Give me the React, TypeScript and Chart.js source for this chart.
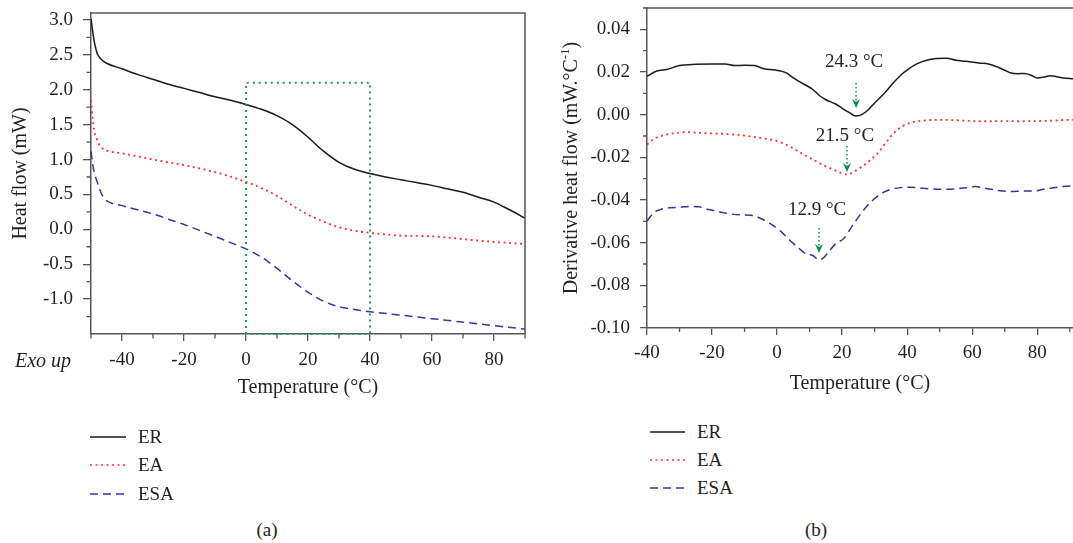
import React, { useEffect, useRef } from "react";
import { Chart, registerables } from "chart.js";
Chart.register(...registerables);

const FONT = '"Liberation Serif", "Times New Roman", serif';
const AXIS = "#555555";
const TEXT = "#231f20";
const ER_COLOR = "#1a1a1a";
const EA_COLOR = "#ff3030";
const ESA_COLOR = "#3636a0";
const GREEN = "#1e9a5a";
const ARROW_GREEN = "#0a8c4a";

// ---------- (a) Heat flow ----------
const tempA_ER = [-50, -49.5, -49, -48.5, -48, -47, -46, -45, -40, -35, -30, -25, -20, -15, -10, -5, 0, 5, 10, 15, 20, 25, 30, 35, 40, 45, 50, 55, 60, 65, 70, 75, 80, 85, 90];
const heatA_ER = [3.02, 2.85, 2.7, 2.6, 2.52, 2.45, 2.41, 2.38, 2.3, 2.22, 2.15, 2.08, 2.02, 1.96, 1.9, 1.85, 1.79, 1.72, 1.63, 1.5, 1.32, 1.12, 0.96, 0.86, 0.8, 0.75, 0.71, 0.67, 0.63, 0.58, 0.53, 0.46, 0.39, 0.28, 0.16];

const tempA_EA = [-50, -49.5, -49, -48, -47, -45, -40, -30, -20, -10, 0, 5, 10, 15, 20, 25, 30, 35, 40, 50, 60, 70, 80, 90];
const heatA_EA = [1.85, 1.6, 1.42, 1.28, 1.19, 1.13, 1.09, 1.0, 0.92, 0.82, 0.68, 0.59, 0.48, 0.34, 0.21, 0.11, 0.03, -0.02, -0.05, -0.09, -0.1, -0.14, -0.18, -0.21];

const tempA_ESA = [-50, -49.5, -49, -48, -47, -46, -45, -40, -35, -30, -25, -20, -15, -10, -5, 0, 5, 10, 15, 20, 25, 30, 35, 40, 50, 60, 70, 80, 90];
const heatA_ESA = [1.12, 0.95, 0.82, 0.68, 0.55, 0.46, 0.41, 0.34, 0.28, 0.22, 0.145, 0.07, -0.015, -0.1, -0.19, -0.28, -0.4, -0.56, -0.74, -0.9, -1.03, -1.11, -1.15, -1.18, -1.23, -1.28, -1.33, -1.38, -1.43];

const boxTemps = [0, 0, 40, 40, 0];
const boxHeat = [-1.5, 2.1, 2.1, -1.5, -1.5];

const xTicksA = [-40, -20, 0, 20, 40, 60, 80];
const xMinorA = [-50, -30, -10, 10, 30, 50, 70, 90];
const yTicksA = [-1.0, -0.5, 0.0, 0.5, 1.0, 1.5, 2.0, 2.5, 3.0];
const yMinorA = [-1.25, -0.75, -0.25, 0.25, 0.75, 1.25, 1.75, 2.25, 2.75];

// ---------- (b) Derivative heat flow ----------
const tempB_ER = [-40, -37, -34, -30, -25, -20, -16, -13, -10, -7, -4, -1, 1, 3, 5, 8, 11, 13, 15, 18, 20, 22, 24.3, 26, 28, 30, 33, 35.5, 38, 40.5, 43, 46, 49, 52, 55, 58, 62, 65, 68, 70, 72, 74, 76, 78, 80, 82, 84, 86, 88, 91];
const derivB_ER = [0.018, 0.0205, 0.0212, 0.023, 0.0236, 0.0238, 0.0238, 0.023, 0.0232, 0.023, 0.0215, 0.021, 0.0205, 0.0195, 0.0172, 0.0145, 0.0118, 0.009, 0.007, 0.005, 0.003, 0.0012, -0.0006, 0.0, 0.0022, 0.0055, 0.01, 0.0145, 0.0185, 0.0215, 0.0238, 0.0255, 0.0263, 0.0265, 0.0255, 0.025, 0.0242, 0.0238, 0.0222, 0.0208, 0.0195, 0.0192, 0.0193, 0.0186, 0.0172, 0.0176, 0.0183, 0.0178, 0.0172, 0.0168];

const tempB_EA = [-40, -38, -35, -32, -28, -24, -20, -16, -12, -8, -4, -1, 2, 5, 8, 11, 14, 17, 19.5, 21.5, 23.5, 26, 28.5, 31, 33.5, 36, 38.5, 41, 45, 50, 55, 60, 65, 70, 75, 80, 85, 88, 91];
const derivB_EA = [-0.014, -0.0115, -0.0097, -0.0088, -0.0082, -0.0085, -0.0088, -0.009, -0.0095, -0.0102, -0.0112, -0.012, -0.0135, -0.0158, -0.0185, -0.021, -0.0235, -0.0255, -0.0272, -0.028, -0.0268, -0.0245, -0.0215, -0.018, -0.013, -0.0085, -0.0055, -0.0038, -0.0028, -0.0024, -0.0026, -0.003, -0.0031, -0.003, -0.0031, -0.003, -0.0028, -0.0025, -0.0024];

const tempB_ESA = [-40, -38, -36, -33, -30, -27, -24, -21, -18, -14, -11, -8, -5, -2, 1, 4, 7, 9, 11, 12.9, 14.5, 16, 18, 20.5, 23, 25, 27, 29.5, 32, 35, 38, 41, 45, 50, 55, 58, 61, 64, 68, 72, 76, 79, 82, 85, 88, 91];
const derivB_ESA = [-0.05, -0.046, -0.0445, -0.0436, -0.0434, -0.043, -0.0432, -0.0445, -0.0455, -0.0466, -0.047, -0.0472, -0.0487, -0.0512, -0.0545, -0.059, -0.063, -0.0653, -0.066, -0.068, -0.0668, -0.064, -0.0605, -0.058, -0.0525, -0.048, -0.044, -0.04, -0.037, -0.035, -0.0342, -0.034, -0.0345, -0.035, -0.0348, -0.0343, -0.0337, -0.0345, -0.0355, -0.036, -0.0358, -0.0358, -0.035, -0.0343, -0.0337, -0.0333];

const xTicksB = [-40, -20, 0, 20, 40, 60, 80];
const xMinorB = [-30, -10, 10, 30, 50, 70, 90];
const yTicksB = [-0.1, -0.08, -0.06, -0.04, -0.02, 0.0, 0.02, 0.04];
const yMinorB = [-0.09, -0.07, -0.05, -0.03, -0.01, 0.01, 0.03, 0.05];

const annoTemps = [24.3, 21.5, 12.9];
const annoLabels = ["24.3 °C", "21.5 °C", "12.9 °C"];
const annoTextValues = [0.0247, -0.01, -0.0447];
const annoArrowTop = [0.0149, -0.0147, -0.0531];
const annoArrowTip = [0.0031, -0.0269, -0.0648];

const seriesNames = ["ER", "EA", "ESA"];
const seriesColors = [ER_COLOR, EA_COLOR, ESA_COLOR];
const seriesDashSvg = ["", "2 3.5", "8 5"];

const pts = (t: number[], v: number[]) => t.map((x, i) => ({ x, y: v[i] }));

function minorTicksPlugin(xMinor: number[], yMinor: number[], len: number) {
  return {
    id: "minorTicks",
    afterDraw(chart: any) {
      const { ctx, chartArea } = chart;
      const xs = chart.scales.x;
      const ys = chart.scales.y;
      ctx.save();
      ctx.strokeStyle = AXIS;
      ctx.lineWidth = 1.3;
      ctx.beginPath();
      xMinor.forEach((v) => {
        const px = xs.getPixelForValue(v);
        if (px < chartArea.left - 1 || px > chartArea.right + 1) return;
        ctx.moveTo(px, chartArea.bottom);
        ctx.lineTo(px, chartArea.bottom + len);
      });
      yMinor.forEach((v) => {
        const py = ys.getPixelForValue(v);
        if (py < chartArea.top - 1 || py > chartArea.bottom + 1) return;
        ctx.moveTo(chartArea.left, py);
        ctx.lineTo(chartArea.left - len, py);
      });
      ctx.stroke();
      ctx.restore();
    },
  };
}

function framePlugin(drawRight: boolean) {
  return {
    id: "frame",
    afterDraw(chart: any) {
      const { ctx, chartArea } = chart;
      ctx.save();
      ctx.strokeStyle = AXIS;
      ctx.lineWidth = 1.5;
      ctx.beginPath();
      ctx.moveTo(chartArea.left, chartArea.top);
      ctx.lineTo(chartArea.right, chartArea.top);
      if (drawRight) ctx.lineTo(chartArea.right, chartArea.bottom);
      ctx.stroke();
      ctx.restore();
    },
  };
}

const annotationPlugin = {
  id: "annotations",
  afterDatasetsDraw(chart: any) {
    const { ctx } = chart;
    const xs = chart.scales.x;
    const ys = chart.scales.y;
    ctx.save();
    annoTemps.forEach((t, i) => {
      const px = xs.getPixelForValue(t);
      const top = ys.getPixelForValue(annoArrowTop[i]);
      const tip = ys.getPixelForValue(annoArrowTip[i]);
      ctx.strokeStyle = ARROW_GREEN;
      ctx.lineWidth = 1.5;
      ctx.setLineDash([1.5, 2.5]);
      ctx.beginPath();
      ctx.moveTo(px, top);
      ctx.lineTo(px, tip - 6);
      ctx.stroke();
      ctx.setLineDash([]);
      ctx.fillStyle = ARROW_GREEN;
      ctx.beginPath();
      ctx.moveTo(px - 4, tip - 9);
      ctx.lineTo(px, tip - 6);
      ctx.lineTo(px + 4, tip - 9);
      ctx.lineTo(px, tip);
      ctx.closePath();
      ctx.fill();
      ctx.fillStyle = TEXT;
      ctx.font = `19px ${FONT}`;
      ctx.textAlign = "center";
      ctx.textBaseline = "middle";
      ctx.fillText(annoLabels[i], px - 2, ys.getPixelForValue(annoTextValues[i]));
    });
    ctx.restore();
  },
};

function yTitleBPlugin(centerX: number) {
  return {
    id: "yTitleB",
    afterDraw(chart: any) {
      const { ctx, chartArea } = chart;
      const main = "Derivative heat flow (mW.°C";
      const sup = "-1";
      const end = ")";
      ctx.save();
      ctx.translate(centerX, (chartArea.top + chartArea.bottom) / 2);
      ctx.rotate(-Math.PI / 2);
      ctx.fillStyle = TEXT;
      ctx.textBaseline = "middle";
      ctx.textAlign = "left";
      ctx.font = `20px ${FONT}`;
      const w1 = ctx.measureText(main).width;
      const w3 = ctx.measureText(end).width;
      ctx.font = `13px ${FONT}`;
      const w2 = ctx.measureText(sup).width;
      const total = w1 + w2 + w3;
      let x = -total / 2;
      ctx.font = `20px ${FONT}`;
      ctx.fillText(main, x, 1);
      x += w1;
      ctx.font = `13px ${FONT}`;
      ctx.fillText(sup, x, -5);
      x += w2;
      ctx.font = `20px ${FONT}`;
      ctx.fillText(end, x, 1);
      ctx.restore();
    },
  };
}

const tickFont = { family: FONT, size: 19 };
const titleFont = { family: FONT, size: 20 };

function axisCommon(tickLen: number) {
  return {
    grid: {
      display: true,
      drawOnChartArea: false,
      drawTicks: true,
      tickLength: tickLen,
      tickColor: AXIS,
      tickWidth: 1.3,
      color: AXIS,
      lineWidth: 1.3,
    },
    border: { display: true, color: AXIS, width: 1.5 },
  };
}

function zeroPad(s: any) {
  s.paddingTop = 0;
  s.paddingBottom = 0;
  s.paddingLeft = 0;
  s.paddingRight = 0;
}

function lineDs(label: string, data: any[], color: string, dash: number[], width: number) {
  return {
    label,
    data,
    borderColor: color,
    backgroundColor: color,
    borderWidth: width,
    borderDash: dash,
    pointRadius: 0,
    fill: false,
    cubicInterpolationMode: "monotone",
  };
}

function ChartA() {
  const ref = useRef<HTMLCanvasElement>(null);
  useEffect(() => {
    const H = 400;
    const chart = new Chart(ref.current as HTMLCanvasElement, {
      type: "line",
      data: {
        datasets: [
          {
            label: "box",
            data: pts(boxTemps, boxHeat),
            borderColor: GREEN,
            borderWidth: 2,
            borderDash: [2, 4],
            pointRadius: 0,
            tension: 0,
            clip: false,
            fill: false,
          },
          lineDs("ER", pts(tempA_ER, heatA_ER), ER_COLOR, [], 1.5),
          lineDs("EA", pts(tempA_EA, heatA_EA), EA_COLOR, [2, 3.5], 1.8),
          lineDs("ESA", pts(tempA_ESA, heatA_ESA), ESA_COLOR, [8, 5], 1.5),
        ] as any,
      },
      options: {
        responsive: false,
        animation: false,
        events: [],
        layout: { padding: { left: 0, top: 13, right: 15, bottom: 0 } },
        plugins: { legend: { display: false }, tooltip: { enabled: false } },
        scales: {
          x: {
            type: "linear",
            min: -50,
            max: 90,
            afterBuildTicks: (s: any) => {
              s.ticks = xTicksA.map((v) => ({ value: v }));
            },
            afterFit: (s: any) => {
              s.height = H - 334;
              zeroPad(s);
            },
            ticks: { font: tickFont, color: TEXT, padding: 8, maxRotation: 0, callback: (v: any) => String(v) },
            title: { display: true, text: "Temperature (°C)", font: titleFont, color: TEXT, padding: 0 },
            ...axisCommon(7),
          },
          y: {
            type: "linear",
            min: -1.5,
            max: 3.1,
            afterBuildTicks: (s: any) => {
              s.ticks = yTicksA.map((v) => ({ value: v }));
            },
            afterFit: (s: any) => {
              s.width = 91;
              zeroPad(s);
            },
            ticks: { font: tickFont, color: TEXT, padding: 10, callback: (v: any) => Number(v).toFixed(1) },
            title: { display: true, text: "Heat flow (mW)", font: titleFont, color: TEXT, padding: { top: 9, bottom: 0 } },
            ...axisCommon(8),
          },
        },
      } as any,
      plugins: [minorTicksPlugin(xMinorA, yMinorA, 4.5), framePlugin(true)],
    });
    return () => chart.destroy();
  }, []);
  return <canvas ref={ref} width={540} height={400} style={{ position: "absolute", left: 0, top: 0 }} />;
}

function ChartB() {
  const ref = useRef<HTMLCanvasElement>(null);
  useEffect(() => {
    const H = 396;
    const chart = new Chart(ref.current as HTMLCanvasElement, {
      type: "line",
      data: {
        datasets: [
          lineDs("ER", pts(tempB_ER, derivB_ER), ER_COLOR, [], 1.5),
          lineDs("EA", pts(tempB_EA, derivB_EA), EA_COLOR, [2, 3.5], 1.8),
          lineDs("ESA", pts(tempB_ESA, derivB_ESA), ESA_COLOR, [8, 5], 1.5),
        ] as any,
      },
      options: {
        responsive: false,
        animation: false,
        events: [],
        layout: { padding: { left: 0, top: 8, right: 0, bottom: 0 } },
        plugins: { legend: { display: false }, tooltip: { enabled: false } },
        scales: {
          x: {
            type: "linear",
            min: -40,
            max: 91,
            afterBuildTicks: (s: any) => {
              s.ticks = xTicksB.map((v) => ({ value: v }));
            },
            afterFit: (s: any) => {
              s.height = H - 328;
              zeroPad(s);
            },
            ticks: { font: tickFont, color: TEXT, padding: 7, maxRotation: 0, callback: (v: any) => String(v) },
            title: { display: true, text: "Temperature (°C)", font: titleFont, color: TEXT, padding: 0 },
            ...axisCommon(7),
          },
          y: {
            type: "linear",
            min: -0.1,
            max: 0.05,
            afterBuildTicks: (s: any) => {
              s.ticks = yTicksB.map((v) => ({ value: v }));
            },
            afterFit: (s: any) => {
              s.width = 107;
              zeroPad(s);
            },
            ticks: { font: tickFont, color: TEXT, padding: 10, callback: (v: any) => Number(v).toFixed(2) },
            ...axisCommon(7),
          },
        },
      } as any,
      plugins: [minorTicksPlugin(xMinorB, yMinorB, 4), framePlugin(false), annotationPlugin, yTitleBPlugin(31)],
    });
    return () => chart.destroy();
  }, []);
  return <canvas ref={ref} width={533} height={396} style={{ position: "absolute", left: 540, top: 0 }} />;
}

function Legend({ left, centers, lineW, gap }: { left: number; centers: number[]; lineW: number; gap: number }) {
  return (
    <>
      {seriesNames.map((n, i) => (
        <div
          key={n}
          style={{ position: "absolute", left, top: centers[i] - 11, height: 22, display: "flex", alignItems: "center" }}
        >
          <svg width={lineW} height={6} style={{ display: "block" }}>
            <line
              x1={0}
              y1={3}
              x2={lineW}
              y2={3}
              stroke={seriesColors[i]}
              strokeWidth={1.6}
              strokeDasharray={seriesDashSvg[i] || undefined}
            />
          </svg>
          <span style={{ marginLeft: gap, font: `19px ${FONT}`, color: TEXT, lineHeight: "22px" }}>{n}</span>
        </div>
      ))}
    </>
  );
}

function Caption({ cx, cy, text }: { cx: number; cy: number; text: string }) {
  return (
    <div
      style={{
        position: "absolute",
        left: cx - 30,
        width: 60,
        top: cy - 11,
        textAlign: "center",
        font: `19px ${FONT}`,
        lineHeight: "22px",
        color: TEXT,
      }}
    >
      {text}
    </div>
  );
}

export default function App() {
  return (
    <div
      style={{
        position: "absolute",
        left: 0,
        top: 0,
        width: 1073,
        height: 543,
        overflow: "hidden",
        background: "#ffffff",
      }}
    >
      <ChartA />
      <ChartB />
      <div
        style={{
          position: "absolute",
          left: 15,
          top: 349,
          font: `italic 20px ${FONT}`,
          lineHeight: "22px",
          color: TEXT,
        }}
      >
        Exo up
      </div>
      <Legend left={90} centers={[437, 465, 494]} lineW={36} gap={12} />
      <Legend left={650} centers={[432, 460, 488]} lineW={35} gap={12} />
      <Caption cx={267} cy={530} text="(a)" />
      <Caption cx={816} cy={530} text="(b)" />
    </div>
  );
}
